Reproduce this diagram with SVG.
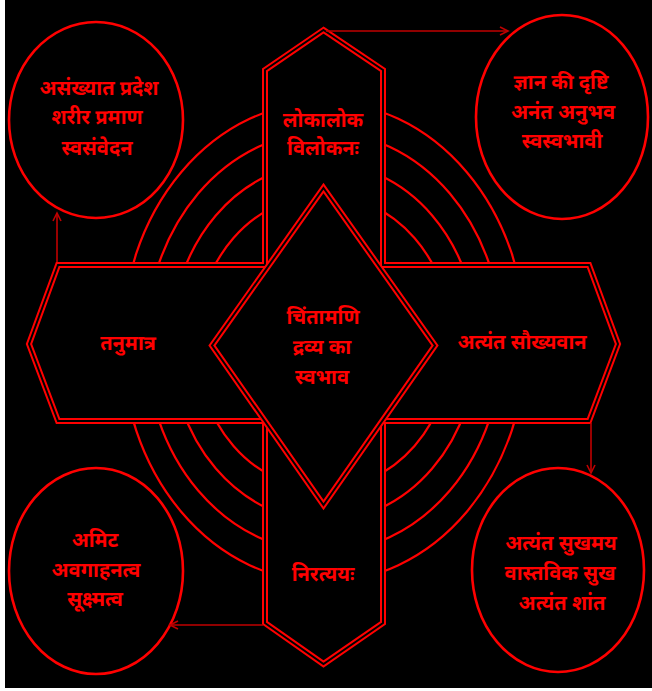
<svg xmlns="http://www.w3.org/2000/svg" xmlns:xlink="http://www.w3.org/1999/xlink" width="652" height="691" viewBox="0 0 652 691">
<style>
.bg{fill:#000}
.ring{fill:none;stroke:#ff0000;stroke-width:2.2}
.node{fill:#000;stroke:#ff0000;stroke-width:2.6}
.dblo{fill:#000;stroke:#ff0000;stroke-width:6;stroke-linejoin:miter}
.dbli{fill:none;stroke:#000;stroke-width:2;stroke-linejoin:miter}
.lbl{font-family:"Noto Sans Devanagari","Noto Sans","Lohit Devanagari",sans-serif;font-weight:bold;font-size:20px;fill:#ff0000;text-anchor:middle}
.conn{fill:none;stroke:#c00000;stroke-width:1.6}
</style>
<defs>
<marker id="ah" markerUnits="userSpaceOnUse" markerWidth="12" markerHeight="12" refX="9" refY="5" orient="auto">
<path d="M1,1 L9,5 L1,9" fill="none" stroke="#c00000" stroke-width="1.6"/>
</marker>
<path id="crossPath" d="M323.5,30 L383,70 L383,265 L589,265 L618,344 L589,421 L383,421 L383,623 L323.5,664 L265,623 L265,421 L58,421 L29,344 L58,265 L265,265 L265,70 Z"/>
<path id="diamondPath" d="M323.5,188 L435,345.5 L323.5,505 L212,345.5 Z"/>
</defs>
<rect x="0" y="0" width="652" height="691" fill="#fff"/>
<rect class="bg" x="5" y="0" width="647" height="688"/>
<g id="rings">
<ellipse class="ring" cx="324" cy="342" rx="128" ry="147"/>
<ellipse class="ring" cx="324" cy="342" rx="153" ry="179"/>
<ellipse class="ring" cx="324" cy="342" rx="178" ry="210"/>
<ellipse class="ring" cx="324" cy="342" rx="202" ry="240"/>
</g>
<g id="cross">
<use xlink:href="#crossPath" href="#crossPath" class="dblo"/>
<use xlink:href="#crossPath" href="#crossPath" class="dbli"/>
</g>
<g id="center">
<use xlink:href="#diamondPath" href="#diamondPath" class="dblo"/>
<use xlink:href="#diamondPath" href="#diamondPath" class="dbli"/>
<text class="lbl" x="323" y="324">चिंतामणि</text>
<text class="lbl" x="322" y="354">द्रव्य का</text>
<text class="lbl" x="322" y="384">स्वभाव</text>
</g>
<g id="arm-top">
<text class="lbl" x="323" y="127">लोकालोक</text>
<text class="lbl" x="323" y="155">विलोकनः</text>
</g>
<g id="arm-left">
<text class="lbl" x="128" y="350">तनुमात्र</text>
</g>
<g id="arm-right">
<text class="lbl" x="522" y="349">अत्यंत सौख्यवान</text>
</g>
<g id="arm-bottom">
<text class="lbl" x="323" y="581">निरत्ययः</text>
</g>
<g id="node-tl">
<ellipse class="node" cx="96" cy="120" rx="87" ry="98"/>
<text class="lbl" x="99" y="95">असंख्यात प्रदेश</text>
<text class="lbl" x="97" y="124">शरीर  प्रमाण</text>
<text class="lbl" x="97" y="155">स्वसंवेदन</text>
</g>
<g id="node-tr">
<ellipse class="node" cx="562" cy="117" rx="86" ry="102"/>
<text class="lbl" x="561" y="89">ज्ञान की दृष्टि</text>
<text class="lbl" x="563" y="119">अनंत अनुभव</text>
<text class="lbl" x="562" y="148">स्वस्वभावी</text>
</g>
<g id="node-bl">
<ellipse class="node" cx="96" cy="571" rx="87" ry="103"/>
<text class="lbl" x="95" y="547">अमिट</text>
<text class="lbl" x="96" y="577">अवगाहनत्व</text>
<text class="lbl" x="95" y="606">सूक्ष्मत्व</text>
</g>
<g id="node-br">
<ellipse class="node" cx="558" cy="570" rx="86" ry="102"/>
<text class="lbl" x="561" y="550">अत्यंत सुखमय</text>
<text class="lbl" x="560" y="580">वास्तविक सुख</text>
<text class="lbl" x="562" y="610">अत्यंत शांत</text>
</g>
<g id="connectors">
<line class="conn" x1="326" y1="31" x2="508" y2="31" marker-end="url(#ah)"/>
<line class="conn" x1="57" y1="262" x2="57" y2="213" marker-end="url(#ah)"/>
<line class="conn" x1="591" y1="423" x2="591" y2="473" marker-end="url(#ah)"/>
<line class="conn" x1="263" y1="625" x2="170" y2="625" marker-end="url(#ah)"/>
</g>
</svg>
